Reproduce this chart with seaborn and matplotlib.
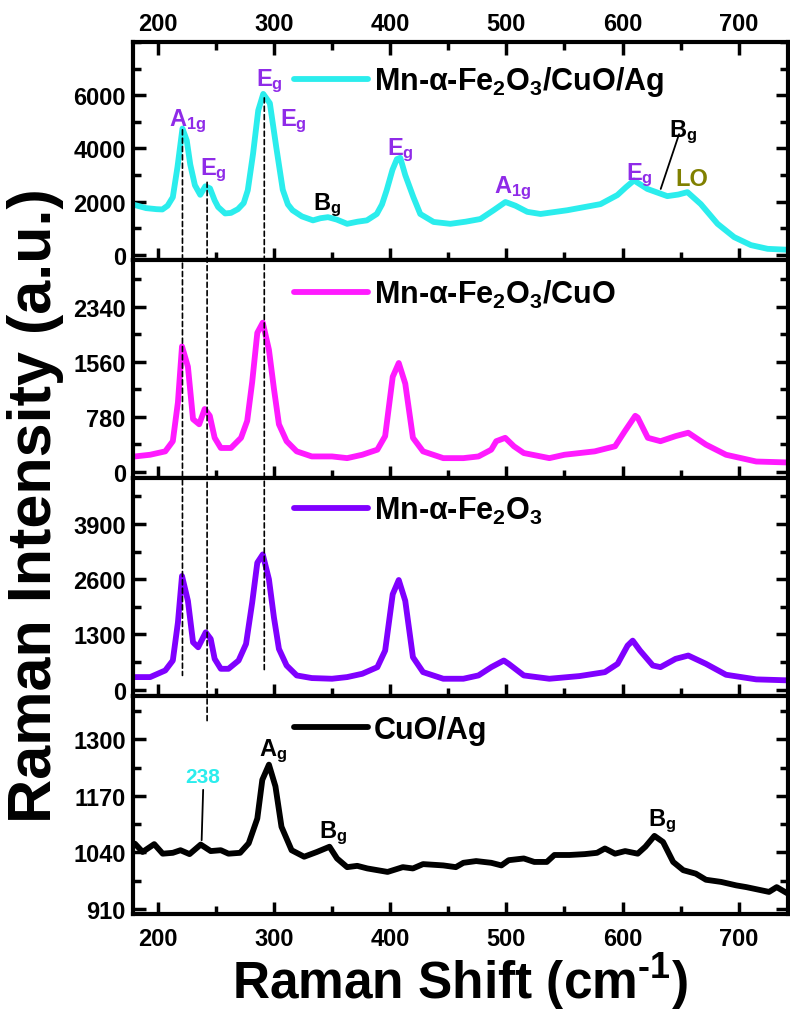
import matplotlib
matplotlib.use('Agg')
import matplotlib.pyplot as plt
from matplotlib.patches import ConnectionPatch
from matplotlib.ticker import MultipleLocator
import seaborn as sns

# Raman spectra (shift in cm-1, intensity in a.u.)
shift_fecuag = [180, 190, 199, 204, 208.5, 213, 217, 221.3, 225, 228, 232, 236.6, 241, 245, 249, 252,
                258, 263, 269, 274, 277.5, 282, 286.5, 290.8, 296.5, 302, 307.6, 312, 316, 324, 333.6,
                340, 346.5, 354, 363, 372, 380, 388.5, 393, 397, 402, 405.8, 408.7, 413, 420, 425.9,
                437.4, 451.8, 465, 477.6, 489, 499.2, 507.8, 518, 529.4, 552.4, 581, 595.5, 603, 609.8,
                621.3, 638.5, 648, 655.8, 667.3, 681.7, 696, 710.4, 724.8, 744.9]
int_fecuag = [1880, 1760, 1720, 1710, 1850, 2170, 3300, 4750, 4300, 3400, 2620, 2260, 2580, 2500, 2050, 1800,
              1560, 1580, 1720, 1950, 2430, 3790, 5430, 6050, 5700, 4050, 2450, 1900, 1680, 1450, 1300,
              1380, 1420, 1330, 1170, 1250, 1300, 1540, 1900, 2430, 3200, 3600, 3650, 3000, 2170, 1540,
              1240, 1170, 1250, 1350, 1680, 1990, 1850, 1620, 1540, 1680, 1910, 2250, 2550, 2800,
              2480, 2210, 2270, 2360, 1910, 1170, 670, 370, 230, 190]

shift_fecu = [180.4, 193.5, 206.5, 213, 217.4, 220.9, 226, 230.4, 235.7, 240.4, 244.8, 249, 254.3, 263,
              271.7, 277, 281.3, 285.7, 290.4, 295.7, 300, 304.3, 310.9, 319.6, 332.6, 350, 363, 376,
              389, 395.7, 402.2, 407.4, 413, 419.6, 428.3, 445.7, 463, 476, 487, 491.3, 499, 506.5,
              515, 537, 550, 576, 593.5, 602, 610.9, 613, 621.7, 632.6, 645.6, 656.5, 671.7, 689,
              715, 743.5]
int_fecu = [216, 240, 288, 432, 984, 1776, 1488, 744, 672, 888, 792, 480, 336, 336,
            480, 720, 1272, 1968, 2112, 1728, 1176, 672, 432, 288, 216, 216, 192, 240,
            312, 504, 1344, 1540, 1248, 480, 288, 192, 192, 216, 312, 432, 480, 360,
            264, 192, 240, 288, 360, 576, 792, 768, 480, 432, 504, 552, 384, 240,
            144, 130]

shift_fe = [180.4, 193.5, 206.5, 213, 217.4, 220.9, 226, 230.4, 234.8, 241.3, 245.6, 249, 254.3, 260.9,
            269.6, 276, 281.3, 285.7, 290.4, 295.7, 300, 304.3, 310.9, 319.6, 332.6, 350, 363, 376,
            389, 395.7, 402.2, 407.4, 413, 419.6, 428.3, 445.7, 463, 476, 487, 497.8, 502, 515,
            537, 563, 584.8, 595.7, 604.3, 608.7, 615, 626, 632.6, 645.6, 656.5, 671.7, 689, 715,
            743.5]
int_fe = [296, 296, 452, 686, 1583, 2675, 2090, 1115, 998, 1349, 1193, 725, 491, 491,
          686, 1076, 2051, 2987, 3182, 2597, 1700, 959, 569, 335, 273, 257, 296, 374,
          530, 920, 2246, 2580, 2090, 764, 413, 257, 257, 335, 530, 686, 608, 335,
          257, 320, 413, 608, 1037, 1154, 920, 569, 530, 725, 803, 608, 351, 242,
          218]

shift_cuag = [180.4, 187, 197, 204.3, 213, 219.6, 227.4, 237, 245.6, 254.3, 260.9, 270.9, 278.3, 285.7,
              290, 295.7, 301.3, 306.5, 315.2, 326, 337, 347.8, 354.3, 363, 371.7, 380.4, 397.8, 410.9,
              419.6, 428.3, 445.7, 456.5, 463, 474, 487, 495.7, 502, 515, 524, 534.8, 541.3, 554.3,
              567.4, 578, 584.8, 593.5, 602.2, 613, 619.6, 627.4, 634.8, 643.5, 652.2, 663, 671.7,
              684.8, 697.8, 706.5, 726, 732.6, 743.5]
int_cuag = [1060, 1041, 1059, 1037, 1039, 1045, 1036, 1058, 1043, 1045, 1037, 1039, 1061, 1118,
            1207, 1242, 1192, 1099, 1045, 1030, 1041, 1053, 1026, 1006, 1009, 1003, 995, 1006,
            1003, 1013, 1010, 1006, 1016, 1020, 1016, 1010, 1022, 1026, 1018, 1018, 1034, 1034,
            1036, 1039, 1049, 1037, 1043, 1037, 1053, 1078, 1064, 1018, 999, 991, 977,
            972, 964, 960, 949, 960, 943]

labels = ['Mn-α-Fe$_2$O$_3$/CuO/Ag', 'Mn-α-Fe$_2$O$_3$/CuO', 'Mn-α-Fe$_2$O$_3$', 'CuO/Ag']
colors = ['#2BEDED', '#FF1AFF', '#8000FF', '#000000']
yticks = [[0, 2000, 4000, 6000], [0, 780, 1560, 2340], [0, 1300, 2600, 3900], [910, 1040, 1170, 1300]]
ylims = [(-190, 8000), (-90, 3000), (-150, 4980), (898, 1400)]

sns.set_theme(style='ticks')
plt.rcParams['font.family'] = ['Liberation Sans', 'DejaVu Sans']
plt.rcParams['font.weight'] = 'bold'
plt.rcParams['mathtext.fontset'] = 'custom'
plt.rcParams['mathtext.rm'] = 'Liberation Sans:bold'
plt.rcParams['mathtext.it'] = 'Liberation Sans:bold'
plt.rcParams['mathtext.bf'] = 'Liberation Sans:bold'
for k in ['text.color', 'axes.labelcolor', 'xtick.color', 'ytick.color', 'axes.edgecolor']:
    plt.rcParams[k] = 'black'

fig, axes = plt.subplots(4, 1, figsize=(7.9, 10.12), dpi=100, sharex=True)
fig.subplots_adjust(left=0.168, right=0.997, top=0.9575, bottom=0.0958, hspace=0)

spectra = [(shift_fecuag, int_fecuag), (shift_fecu, int_fecu), (shift_fe, int_fe), (shift_cuag, int_cuag)]
leg_y = [0.82, 0.845, 0.85, 0.845]

for i, ax in enumerate(axes):
    x, y = spectra[i]
    sns.lineplot(x=x, y=y, ax=ax, color=colors[i], lw=4.2, label=labels[i], sort=False)
    ax.set_xlim(178.5, 742)
    ax.set_ylim(*ylims[i])
    ax.set_yticks(yticks[i])
    ax.yaxis.set_minor_locator(MultipleLocator((yticks[i][1] - yticks[i][0]) / 2))
    ax.xaxis.set_major_locator(MultipleLocator(100))
    ax.xaxis.set_minor_locator(MultipleLocator(50))
    ax.tick_params(which='both', direction='in', width=2.5, right=True, top=(i == 0),
                   labelsize=17, pad=5)
    ax.tick_params(which='major', length=9)
    ax.tick_params(which='minor', length=6)
    for s in ax.spines.values():
        s.set_linewidth(3)
    ax.set_ylabel('')
    ax.legend(loc='center left', bbox_to_anchor=(0.247, leg_y[i]), frameon=False, fontsize=22,
              handlelength=2.4, handletextpad=0.2, borderaxespad=0, borderpad=0)

axes[0].tick_params(labeltop=True, labelbottom=False)
axes[1].tick_params(labelbottom=False)
axes[2].tick_params(labelbottom=False)
axes[3].tick_params(axis='x', pad=9)
axes[3].set_xlabel(r'Raman Shift (cm$^{\text{-}1}$)', fontsize=37, fontweight='bold', labelpad=1)
fig.text(0.045, 0.50, 'Raman Intensity (a.u.)', rotation=90, fontsize=44, fontweight='bold',
         ha='center', va='center')

# peak assignments
purple = '#8F2BE8'
ax0 = axes[0]
for xt, yt, s, c in [(209.5, 4870, 'A$_{1g}$', purple), (236.6, 3040, 'E$_g$', purple),
                     (285, 6390, 'E$_g$', purple), (305.2, 4870, 'E$_g$', purple),
                     (333.4, 1730, 'B$_g$', 'black'), (397.5, 3780, 'E$_g$', purple),
                     (489, 2360, 'A$_{1g}$', purple), (602.6, 2860, 'E$_g$', purple),
                     (640, 4480, 'B$_g$', 'black'), (645.7, 2610, 'LO', '#808000')]:
    ax0.text(xt, yt, s, color=c, fontsize=17, fontweight='bold', va='baseline', ha='left')
ax0.plot([648.6, 632.8], [4540, 2480], color='black', lw=1.3)

ax3 = axes[3]
for xt, yt, s in [(287, 1265, 'A$_g$'), (339, 1076, 'B$_g$'), (621.7, 1103, 'B$_g$')]:
    ax3.text(xt, yt, s, color='black', fontsize=17, fontweight='bold', va='baseline', ha='left')
ax3.text(238.3, 1201, '238', color='#2BEDED', fontsize=15, fontweight='bold', va='baseline', ha='center')
ax3.plot([239.1, 237.8], [1184, 1068], color='black', lw=1.3)

# dashed guide lines linking the peaks across panels
for xv, y_top, top_ax, y_bot, bot_ax in [(221.3, 4700, axes[0], 335, axes[2]),
                                         (242.5, 2730, axes[0], 1342, axes[3]),
                                         (291.7, 5900, axes[0], 413, axes[2])]:
    con = ConnectionPatch(xyA=(xv, y_top), coordsA=top_ax.transData,
                          xyB=(xv, y_bot), coordsB=bot_ax.transData,
                          linestyle=(0, (3, 2)), color='black', lw=1.2)
    fig.add_artist(con)

fig.savefig('out.png', dpi=100)
